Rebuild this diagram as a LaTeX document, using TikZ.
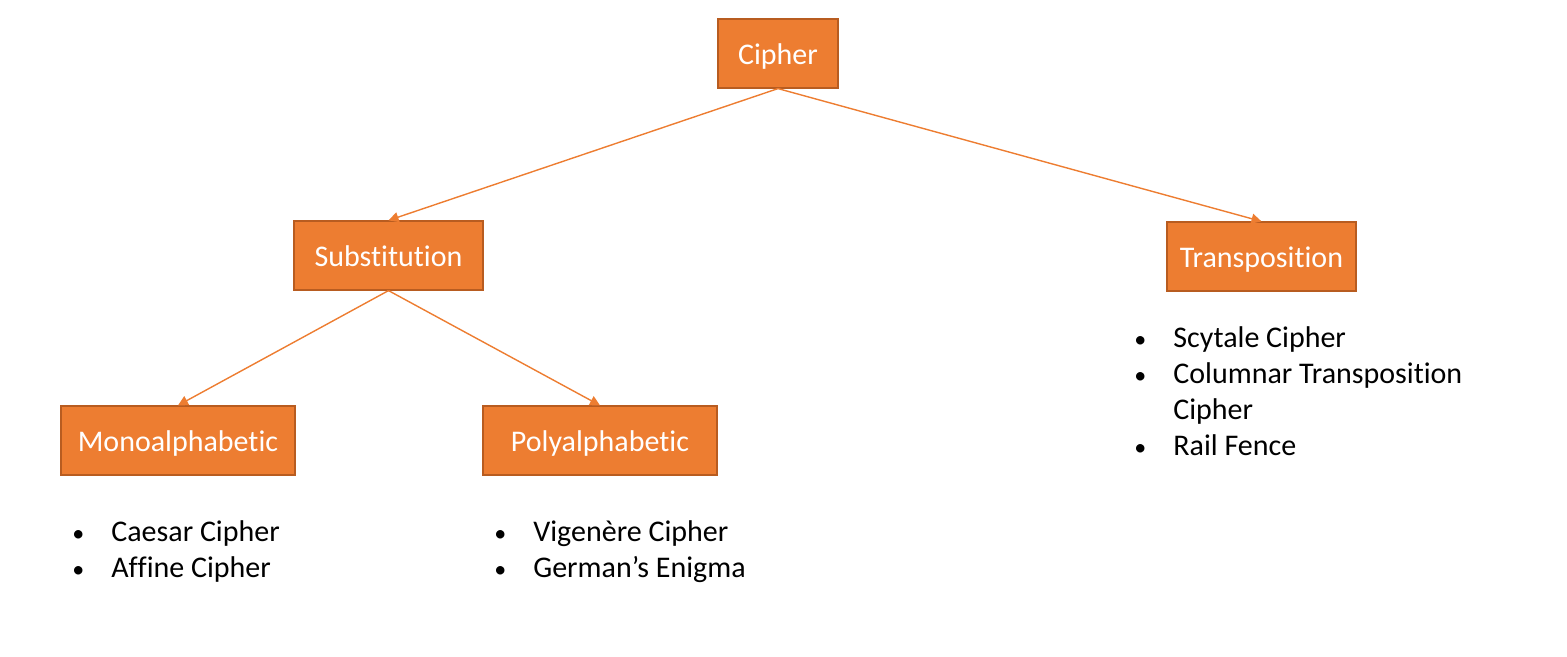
\documentclass[tikz,border=0pt]{standalone}
\usepackage{fontspec}
\setmainfont{Carlito}[Ligatures=NoCommon]
\usetikzlibrary{arrows.meta}
\definecolor{boxfill}{HTML}{ED7D31}
\definecolor{boxline}{HTML}{B85C20}
\newcommand{\itemdot}{{\fontsize{12}{18}\selectfont\textbullet}}
\begin{document}
\begin{tikzpicture}[x=0.5pt, y=-0.5pt,
  every node/.style={font=\fontsize{15}{18}\selectfont},
  kind/.style={draw=boxline, fill=boxfill, line width=0.6pt, text=white,
    minimum height=34.5pt, inner sep=0pt, text height=13.8pt, text depth=3pt},
  link/.style={draw=boxfill, line width=0.7pt, -{Triangle[length=5pt,width=5pt]}},
  items/.style={anchor=north west, inner sep=0pt}]
\useasboundingbox (0,0) rectangle (1567,657);
\node[kind, minimum width=60pt] (cipher) at (778,53.5) {Cipher};
\node[kind, minimum width=94.5pt] (subst) at (388.5,255.5) {Substitution};
\node[kind, minimum width=94.5pt] (transp) at (1261.5,256.5) {Transposition};
\node[kind, minimum width=117pt] (mono) at (178,440.5) {Monoalphabetic};
\node[kind, minimum width=117pt] (poly) at (600,440.5) {Polyalphabetic};
\draw[link] (cipher.south) -- (subst.north);
\draw[link] (cipher.south) -- (transp.north);
\draw[link] (subst.south) -- (mono.north);
\draw[link] (subst.south) -- (poly.north);
% the lists under the leaves
\node[items] (monolist) at (72,516) {\begin{tabular}{@{}l@{\hspace{13.5pt}}l@{}}
  \itemdot & Caesar Cipher\\
  \itemdot & Affine Cipher\end{tabular}};
\node[items] (polylist) at (494,516) {\begin{tabular}{@{}l@{\hspace{13.5pt}}l@{}}
  \itemdot & Vigenère Cipher\\
  \itemdot & German’s Enigma\end{tabular}};
\node[items] (translist) at (1134,322) {\begin{tabular}{@{}l@{\hspace{13.5pt}}l@{}}
  \itemdot & Scytale Cipher\\
  \itemdot & Columnar Transposition\\
   & Cipher\\
  \itemdot & Rail Fence\end{tabular}};
\end{tikzpicture}
\end{document}
